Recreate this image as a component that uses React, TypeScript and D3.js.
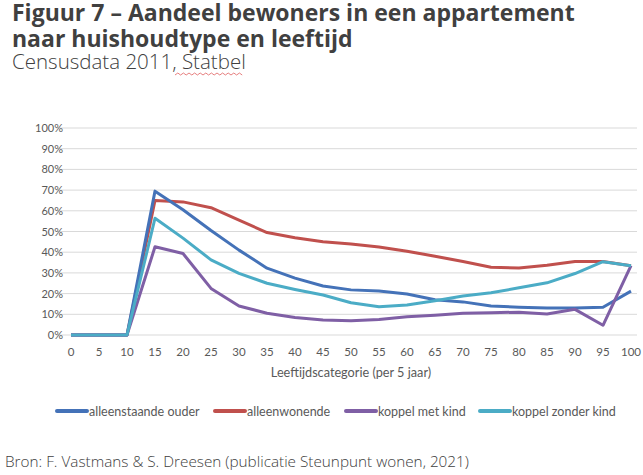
import React from "react";
import * as d3 from "d3";

const ages = [0, 5, 10, 15, 20, 25, 30, 35, 40, 45, 50, 55, 60, 65, 70, 75, 80, 85, 90, 95, 100];
const alleenstaandeOuder = [0, 0, 0, 69.5, 60.5, 50.5, 41, 32.3, 27.5, 23.7, 21.8, 21.3, 19.8, 17, 16, 14, 13.4, 13, 13.1, 13.4, 21.2];
const alleenwonende = [0, 0, 0, 65, 64.3, 61.5, 55.5, 49.5, 47, 45, 44, 42.5, 40.5, 38, 35.5, 32.7, 32.4, 33.7, 35.5, 35.5, 33.5];
const koppelMetKind = [0, 0, 0, 42.6, 39.4, 22.5, 14, 10.5, 8.5, 7.2, 6.9, 7.5, 8.8, 9.6, 10.5, 10.8, 11, 10.1, 12.4, 4.7, 33.5];
const koppelZonderKind = [0, 0, 0, 56.4, 46.8, 36.3, 29.8, 25, 22, 19.3, 15.6, 13.7, 14.5, 16.5, 18.8, 20.4, 22.8, 25.2, 29.7, 35.4, 33.5];
const seriesNames = ["alleenstaande ouder", "alleenwonende", "koppel met kind", "koppel zonder kind"];
const seriesColors = ["#4472B8", "#C0504D", "#7F5FA5", "#4BACC6"];
const yTicks = [0, 10, 20, 30, 40, 50, 60, 70, 80, 90, 100];

export default function App() {
  const W = 643, H = 475;
  const x = d3.scaleLinear().domain([0, 100]).range([71, 631]);
  const y = d3.scaleLinear().domain([0, 100]).range([335, 128]);
  const line = d3.line<number>().x((_, i) => x(ages[i])).y(d => y(d));
  const all = [alleenstaandeOuder, alleenwonende, koppelMetKind, koppelZonderKind];
  const drawOrder = [1, 0, 2, 3];
  const legendX = [57, 215, 346, 480];
  const chartFont = "Lato, 'Open Sans', sans-serif";
  const titleFont = "'Open Sans', 'Noto Sans', sans-serif";
  return (
    <svg width={W} height={H} style={{ position: "absolute", left: 0, top: 0, background: "#fff" }}>
      <text x={12} y={21} fontFamily={titleFont} fontWeight={700} fontSize={23} fill="#404040">Figuur 7 – Aandeel bewoners in een appartement</text>
      <text x={12} y={47} fontFamily={titleFont} fontWeight={700} fontSize={23} fill="#404040">naar huishoudtype en leeftijd</text>
      <text x={12} y={69} fontFamily={titleFont} fontWeight={300} fontSize={20.5} fill="#404040">Censusdata 2011, Statbel</text>
      <path d={d3.range(0, 25).map(i => `${i === 0 ? "M" : "L"}${175 + i * 2.8},${i % 2 ? 73 : 75}`).join("")} stroke="#e06060" strokeWidth={0.8} fill="none" />
      {yTicks.map(t => (
        <g key={t}>
          <line x1={56} x2={637} y1={y(t)} y2={y(t)} stroke="#d9d9d9" strokeWidth={1} />
          <text x={63} y={y(t) + 4} textAnchor="end" fontFamily={chartFont} fontSize={11} fill="#595959">{t}%</text>
        </g>
      ))}
      {ages.map(a => (
        <text key={a} x={x(a)} y={356} textAnchor="middle" fontFamily={chartFont} fontSize={11.5} fill="#595959">{a}</text>
      ))}
      <text x={351} y={377} textAnchor="middle" fontFamily={chartFont} fontSize={12.7} fill="#595959">Leeftijdscategorie (per 5 jaar)</text>
      {drawOrder.map(k => (
        <path key={k} d={line(all[k]) || ""} fill="none" stroke={seriesColors[k]} strokeWidth={3} strokeLinejoin="round" />
      ))}
      {seriesNames.map((n, k) => (
        <g key={n}>
          <line x1={legendX[k]} x2={legendX[k] + 30} y1={411} y2={411} stroke={seriesColors[k]} strokeWidth={4} strokeLinecap="round" />
          <text x={legendX[k] + 32} y={415.5} fontFamily={chartFont} fontSize={12.5} fill="#595959">{n}</text>
        </g>
      ))}
      <text x={5} y={467} fontFamily={titleFont} fontWeight={300} fontSize={15.3} fill="#404040">Bron: F. Vastmans &amp; S. Dreesen (publicatie Steunpunt wonen, 2021)</text>
    </svg>
  );
}
